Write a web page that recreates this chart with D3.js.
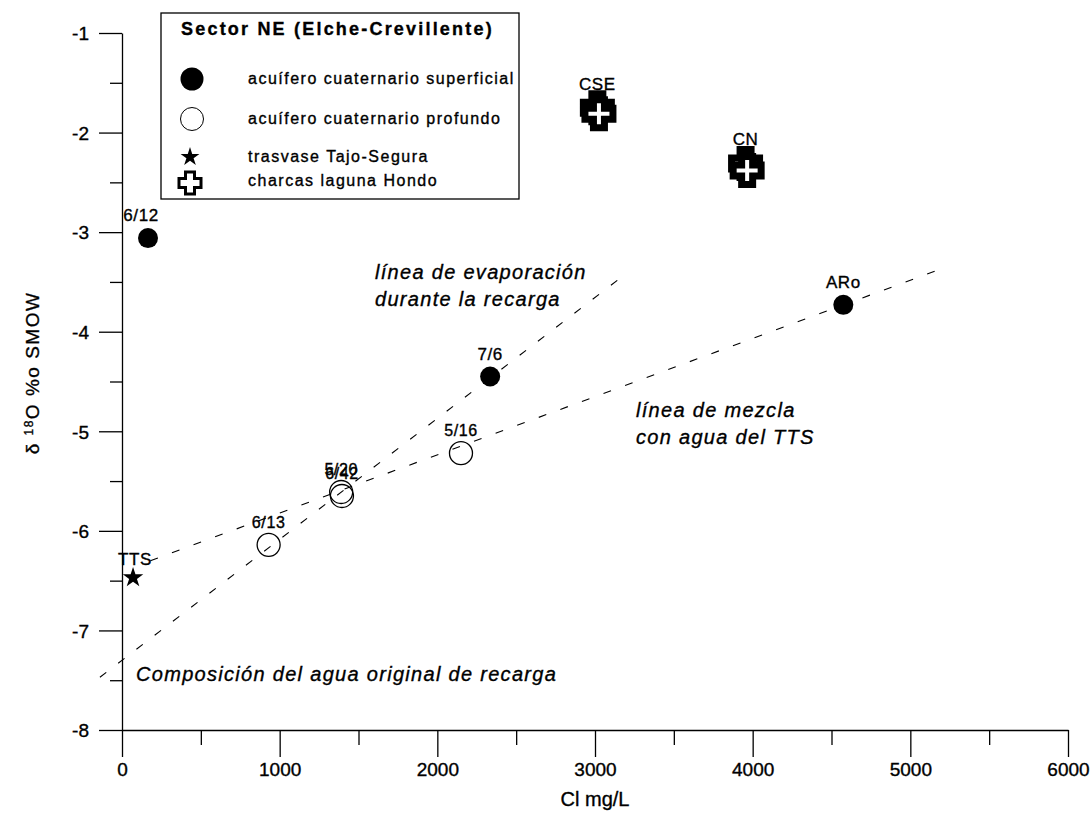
<!DOCTYPE html>
<html>
<head>
<meta charset="utf-8">
<script src="https://cdn.jsdelivr.net/npm/d3@7"></script>
<style>
  body { margin: 0; background: #fff; }
  text { font-family: "Liberation Sans", Arial, sans-serif; fill: #000; stroke: #000; stroke-width: 0.35px; }
</style>
</head>
<body>
<script>
const width = 1091;
const height = 815;

// data (Cl mg/L, delta 18O)
const superficialLabels = ["6/12", "7/6", "ARo"];
const superficialCl = [165, 2335, 4575];
const superficialO18 = [-3.06, -4.45, -3.73];

const profundoLabels = ["6/13", "5/20", "6/42", "5/16"];
const profundoCl = [930, 1390, 1395, 2150];
const profundoO18 = [-6.14, -5.61, -5.65, -5.22];

const trasvaseLabels = ["TTS"];
const trasvaseCl = [70];
const trasvaseO18 = [-6.47];

const charcasLabels = ["CSE", "", "CN", ""];
const charcasCl = [3015, 3025, 3955, 3965];
const charcasO18 = [-1.75, -1.81, -2.31, -2.38];

// dashed lines (endpoints)
const evaporacionLine = [[-140, -7.47], [3170, -3.45]];
const mezclaLine = [[180, -6.30], [5210, -3.36]];

const xMajor = [0, 1000, 2000, 3000, 4000, 5000, 6000];
const xMinor = [500, 1500, 2500, 3500, 4500, 5500];
const yMajor = [-8, -7, -6, -5, -4, -3, -2, -1];
const yMinor = [-7.5, -6.5, -5.5, -4.5, -3.5, -2.5, -1.5];

const legendTitle = "Sector NE (Elche-Crevillente)";
const legendItems = ["acuífero cuaternario superficial", "acuífero cuaternario profundo", "trasvase Tajo-Segura", "charcas laguna Hondo"];

const svg = d3.select("body").append("svg")
  .attr("width", width)
  .attr("height", height);

const x = d3.scaleLinear().domain([0, 6000]).range([122, 1068]);
const y = d3.scaleLinear().domain([-8, -1]).range([730, 33]);

// axes
const yAxis = svg.append("g").attr("transform", `translate(${x(0)},0)`)
  .call(d3.axisLeft(y).tickValues(yMajor).tickFormat(d => String(d))
    .tickSize(23).tickSizeOuter(0).tickPadding(10));
yAxis.selectAll("text").style("font-size", "19px").attr("dy", "0.36em");
svg.append("g").attr("transform", `translate(${x(0)},0)`)
  .call(d3.axisLeft(y).tickValues(yMinor).tickSize(12).tickFormat(""))
  .select(".domain").remove();

const xAxis = svg.append("g").attr("transform", `translate(0,${y(-8)})`)
  .call(d3.axisBottom(x).tickValues(xMajor).tickFormat(d => String(d))
    .tickSize(27).tickSizeOuter(0).tickPadding(6));
xAxis.selectAll("text")
  .style("font-size", "19px")
  .style("font-family", "'Liberation Sans Narrow', 'Liberation Sans', Arial, sans-serif");
svg.append("g").attr("transform", `translate(0,${y(-8)})`)
  .call(d3.axisBottom(x).tickValues(xMinor).tickSize(15).tickFormat(""))
  .select(".domain").remove();
svg.selectAll(".domain, .tick line").attr("stroke", "#000").attr("stroke-width", 1.3);
svg.selectAll(".tick text").attr("fill", "#000");
yAxis.selectAll("text").style("font-family", "'Liberation Sans', Arial, sans-serif");

// axis titles
svg.append("text")
  .attr("x", 595).attr("y", 806)
  .attr("text-anchor", "middle")
  .style("font-size", "20px")
  .style("font-family", "'Liberation Sans Narrow', 'Liberation Sans', Arial, sans-serif")
  .text("Cl mg/L");

const yTitle = svg.append("text")
  .attr("transform", "translate(39,373) rotate(-90)")
  .attr("text-anchor", "middle")
  .style("font-size", "19px")
  .style("letter-spacing", "1.5px");
yTitle.append("tspan").text("δ ");
yTitle.append("tspan").style("font-size", "12px").attr("dy", "-6").text("18");
yTitle.append("tspan").attr("dy", "6").text("O %o SMOW");

// dashed lines
const line = d3.line().x(d => x(d[0])).y(d => y(d[1]));
[evaporacionLine, mezclaLine].forEach(l => {
  svg.append("path")
    .attr("d", line(l))
    .attr("fill", "none")
    .attr("stroke", "#000")
    .attr("stroke-width", 1.1)
    .attr("stroke-dasharray", "8,15");
});

// annotations
const note = (tx, ty, s) => svg.append("text")
  .attr("x", tx).attr("y", ty)
  .style("font-size", "20px")
  .style("font-style", "italic")
  .style("letter-spacing", "1.3px")
  .text(s);
note(375, 279, "línea de evaporación");
note(375, 306, "durante la recarga");
note(636, 417, "línea de mezcla");
note(636, 444, "con agua del TTS");
note(136, 681, "Composición del agua original de recarga");

// cross symbol path
function crossPath(s, w) {
  const a = s / 2, b = w / 2;
  return `M${-b},${-a}H${b}V${-b}H${a}V${b}H${b}V${a}H${-b}V${b}H${-a}V${-b}H${-b}Z`;
}

const labelStyle = sel => sel.attr("text-anchor", "middle")
  .style("font-size", "17px").style("letter-spacing", "0.6px");

// superficial (filled circles)
superficialCl.forEach((c, i) => {
  svg.append("circle")
    .attr("cx", x(c)).attr("cy", y(superficialO18[i]))
    .attr("r", 10).attr("fill", "#000");
  svg.append("text")
    .attr("x", x(c) - (i === 0 ? 7 : 0)).attr("y", y(superficialO18[i]) - 17)
    .call(labelStyle)
    .text(superficialLabels[i]);
});

// profundo (open circles)
profundoCl.forEach((c, i) => {
  svg.append("circle")
    .attr("cx", x(c)).attr("cy", y(profundoO18[i]))
    .attr("r", 11.5).attr("fill", "none")
    .attr("stroke", "#000").attr("stroke-width", 1.3);
  svg.append("text")
    .attr("x", x(c)).attr("y", y(profundoO18[i]) - 17)
    .call(labelStyle)
    .style("font-size", "16px")
    .text(profundoLabels[i]);
});

// trasvase (star)
trasvaseCl.forEach((c, i) => {
  svg.append("path")
    .attr("transform", `translate(${x(c)},${y(trasvaseO18[i])})`)
    .attr("d", d3.symbol(d3.symbolStar, 130)())
    .attr("fill", "#000");
  svg.append("text")
    .attr("x", x(c) + 2).attr("y", y(trasvaseO18[i]) - 13)
    .call(labelStyle)
    .text(trasvaseLabels[i]);
});

// charcas (crosses)
charcasCl.forEach((c, i) => {
  svg.append("path")
    .attr("transform", `translate(${x(c)},${y(charcasO18[i])})`)
    .attr("d", crossPath(28, 11))
    .attr("fill", "#fff")
    .attr("stroke", "#000")
    .attr("stroke-width", 7);
  if (charcasLabels[i]) {
    svg.append("text")
      .attr("x", x(c)).attr("y", y(charcasO18[i]) - 18)
      .call(labelStyle)
      .text(charcasLabels[i]);
  }
});

// legend
const lg = svg.append("g");
lg.append("rect")
  .attr("x", 161).attr("y", 13).attr("width", 358).attr("height", 186)
  .attr("fill", "#fff").attr("stroke", "#000").attr("stroke-width", 1.3);
lg.append("text")
  .attr("x", 181).attr("y", 35)
  .style("font-size", "18px").style("font-weight", "bold")
  .style("letter-spacing", "2.2px")
  .text(legendTitle);
const rowY = [79, 119, 157, 181];
lg.append("circle").attr("cx", 192).attr("cy", rowY[0]).attr("r", 11.5).attr("fill", "#000");
lg.append("circle").attr("cx", 192).attr("cy", rowY[1]).attr("r", 11.5)
  .attr("fill", "#fff").attr("stroke", "#000").attr("stroke-width", 1);
lg.append("path").attr("transform", `translate(190,${rowY[2]})`)
  .attr("d", d3.symbol(d3.symbolStar, 110)()).attr("fill", "#000");
lg.append("path").attr("transform", `translate(190,${rowY[3] + 2})`)
  .attr("d", crossPath(22, 9))
  .attr("fill", "#fff").attr("stroke", "#000").attr("stroke-width", 3);
legendItems.forEach((t, i) => {
  lg.append("text")
    .attr("x", 248).attr("y", rowY[i] + 5)
    .style("font-size", "16px")
    .style("letter-spacing", "1.5px")
    .text(t);
});
</script>
</body>
</html>
